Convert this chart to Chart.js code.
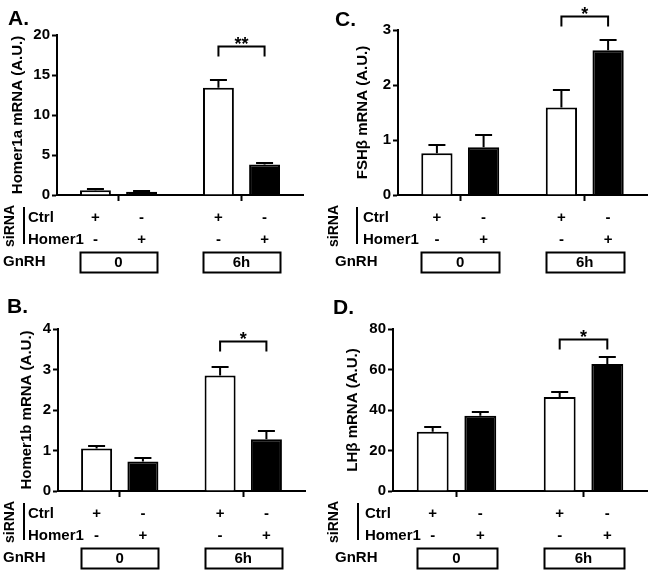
<!DOCTYPE html>
<html>
<head>
<meta charset="utf-8">
<script src="https://cdn.jsdelivr.net/npm/chart.js@4.4.1/dist/chart.umd.min.js"></script>
<style>
body { margin: 0; background: #fff; }
#wrap { position: relative; width: 650px; height: 572px; }
canvas { position: absolute; }
</style>
</head>
<body>
<div id="wrap">
  <canvas id="chartA" width="325" height="286" style="left:0;top:0"></canvas>
  <canvas id="chartB" width="325" height="286" style="left:0;top:286px"></canvas>
  <canvas id="chartC" width="325" height="286" style="left:325px;top:0"></canvas>
  <canvas id="chartD" width="325" height="286" style="left:325px;top:286px"></canvas>
</div>
<script>
// GnRH treatment groups, siRNA sign rows (one entry per bar, left to right)
const gnrhLabels = ['0', '6h'];
const ctrlSigns = ['+', '-', '+', '-'];
const homerSigns = ['-', '+', '-', '+'];

// A. Homer1a
const homer1aCtrl = [0.6, 13.4];
const homer1aCtrlSem = [0.2, 1.0];
const homer1aKd = [0.42, 3.8];
const homer1aKdSem = [0.1, 0.15];
// B. Homer1b
const homer1bCtrl = [1.05, 2.85];
const homer1bCtrlSem = [0.07, 0.2];
const homer1bKd = [0.73, 1.28];
const homer1bKdSem = [0.09, 0.2];
// C. FSHb
const fshbCtrl = [0.76, 1.59];
const fshbCtrlSem = [0.15, 0.32];
const fshbKd = [0.87, 2.63];
const fshbKdSem = [0.22, 0.19];
// D. LHb
const lhbCtrl = [29.3, 46.4];
const lhbCtrlSem = [2.4, 2.4];
const lhbKd = [37.1, 62.7];
const lhbKdSem = [1.9, 3.6];

// significance between the 6h bars
const sigStars = ['**', '*', '*', '*'];
const sigLevel = [18.6, 3.7, 3.25, 75];

const family = '"Liberation Sans", Arial, sans-serif';

function annotations(p) {
  return {
    id: 'annot' + p.letter,
    afterDraw(chart) {
      const ctx = chart.ctx, y = chart.scales.y, area = chart.chartArea;
      ctx.save();
      ctx.strokeStyle = '#000';
      ctx.fillStyle = '#000';
      ctx.lineWidth = 2;

      // error bars (upper only)
      chart.data.datasets.forEach((ds, i) => {
        chart.getDatasetMeta(i).data.forEach((el, j) => {
          const top = Math.round(y.getPixelForValue(ds.data[j] + ds.sem[j]));
          ctx.beginPath();
          ctx.moveTo(el.x, el.y);
          ctx.lineTo(el.x, top);
          ctx.moveTo(el.x - 8.5, top);
          ctx.lineTo(el.x + 8.5, top);
          ctx.stroke();
        });
      });

      const m0 = chart.getDatasetMeta(0).data, m1 = chart.getDatasetMeta(1).data;
      const bars = [m0[0], m1[0], m0[1], m1[1]];

      // bracket and stars
      const by = Math.round(y.getPixelForValue(p.sig)) + 0.5;
      ctx.beginPath();
      ctx.moveTo(m0[1].x, by + 10);
      ctx.lineTo(m0[1].x, by);
      ctx.lineTo(m1[1].x, by);
      ctx.lineTo(m1[1].x, by + 10);
      ctx.stroke();
      ctx.font = 'bold 18px ' + family;
      ctx.textAlign = 'center';
      ctx.textBaseline = 'alphabetic';
      ctx.fillText(p.stars, (m0[1].x + m1[1].x) / 2, by + 3);

      // panel letter
      ctx.font = 'bold 21px ' + family;
      ctx.textAlign = 'left';
      ctx.fillText(p.letter + '.', p.letterPos[0], p.letterPos[1]);

      // siRNA / GnRH table
      const b = area.bottom;
      ctx.font = 'bold 15px ' + family;
      ctx.textBaseline = 'middle';
      ctx.textAlign = 'left';
      ctx.fillText('Ctrl', p.rowX, b + 23);
      ctx.fillText('Homer1', p.rowX, b + 45);
      ctx.fillText('GnRH', p.gnrhX, b + 67);
      ctx.textAlign = 'center';
      bars.forEach((el, k) => {
        ctx.fillText(ctrlSigns[k], el.x, b + 23);
        ctx.fillText(homerSigns[k], el.x, b + 45);
      });
      ctx.beginPath();
      ctx.moveTo(p.lineX, b + 12);
      ctx.lineTo(p.lineX, b + 49);
      ctx.stroke();
      ctx.save();
      ctx.translate(p.sirnaX, b + 31);
      ctx.rotate(-Math.PI / 2);
      ctx.font = 'bold 14px ' + family;
      ctx.fillText('siRNA', 0, 0);
      ctx.restore();

      chart.data.labels.forEach((lab, j) => {
        const l = m0[j].x - m0[j].width / 2, r = m1[j].x + m1[j].width / 2;
        ctx.strokeRect(Math.round(l) + 0.5, b + 57.5, Math.round(r - l), 20);
        ctx.fillText(lab, (l + r) / 2, b + 68);
      });
      ctx.restore();
    }
  };
}

function makePanel(id, p) {
  return new Chart(document.getElementById(id), {
    type: 'bar',
    data: {
      labels: gnrhLabels,
      datasets: [
        { label: 'Ctrl', data: p.ctrl, sem: p.ctrlSem, backgroundColor: '#fff', borderColor: '#000', borderWidth: 2 },
        { label: 'Homer1', data: p.kd, sem: p.kdSem, backgroundColor: '#000', borderColor: '#000', borderWidth: 2 }
      ]
    },
    options: {
      responsive: false,
      animation: false,
      layout: { padding: { left: 0, top: p.area[1], right: 325 - p.area[2], bottom: 286 - p.area[3] } },
      datasets: { bar: { categoryPercentage: 0.75, barPercentage: 0.67 } },
      plugins: { legend: { display: false }, tooltip: { enabled: false } },
      scales: {
        x: {
          ticks: { display: false },
          grid: { drawOnChartArea: false, offset: false, tickLength: 6, tickWidth: 2, tickColor: '#000' },
          border: { width: 2, color: '#000' },
          afterFit(s) { s.height = 0; }
        },
        y: {
          min: 0, max: p.max,
          ticks: { stepSize: p.step, color: '#000', padding: 2, font: { family: family, size: 15, weight: 'bold' } },
          grid: { drawOnChartArea: false, tickLength: 5, tickWidth: 2, tickColor: '#000' },
          border: { width: 2, color: '#000' },
          title: { display: true, text: p.title, color: '#000', padding: { top: p.titlePad, bottom: 0 },
                   font: { family: family, size: 15, weight: 'bold' } },
          afterFit(s) { s.width = p.area[0]; }
        }
      }
    },
    plugins: [annotations(p)]
  });
}

makePanel('chartA', {
  letter: 'A', letterPos: [8, 25], title: 'Homer1a mRNA (A.U.)', max: 20, step: 5,
  ctrl: homer1aCtrl, ctrlSem: homer1aCtrlSem, kd: homer1aKd, kdSem: homer1aKdSem,
  stars: sigStars[0], sig: sigLevel[0],
  area: [57, 35, 303, 195], titlePad: 9, sirnaX: 10, lineX: 24, rowX: 28, gnrhX: 3
});
makePanel('chartB', {
  letter: 'B', letterPos: [7, 27], title: 'Homer1b mRNA (A.U.)', max: 4, step: 1,
  ctrl: homer1bCtrl, ctrlSem: homer1bCtrlSem, kd: homer1bKd, kdSem: homer1bKdSem,
  stars: sigStars[1], sig: sigLevel[1],
  area: [58, 43, 305, 205], titlePad: 18, sirnaX: 10, lineX: 24, rowX: 28, gnrhX: 3
});
makePanel('chartC', {
  letter: 'C', letterPos: [10, 26], title: 'FSHβ mRNA (A.U.)', max: 3, step: 1,
  ctrl: fshbCtrl, ctrlSem: fshbCtrlSem, kd: fshbKd, kdSem: fshbKdSem,
  stars: sigStars[2], sig: sigLevel[2],
  area: [73, 30, 322, 195], titlePad: 29, sirnaX: 9, lineX: 32, rowX: 38, gnrhX: 10
});
makePanel('chartD', {
  letter: 'D', letterPos: [8, 28], title: 'LHβ mRNA (A.U.)', max: 80, step: 20,
  ctrl: lhbCtrl, ctrlSem: lhbCtrlSem, kd: lhbKd, kdSem: lhbKdSem,
  stars: sigStars[3], sig: sigLevel[3],
  area: [68, 43, 322, 205], titlePad: 19, sirnaX: 9, lineX: 33, rowX: 40, gnrhX: 10
});
</script>
</body>
</html>
